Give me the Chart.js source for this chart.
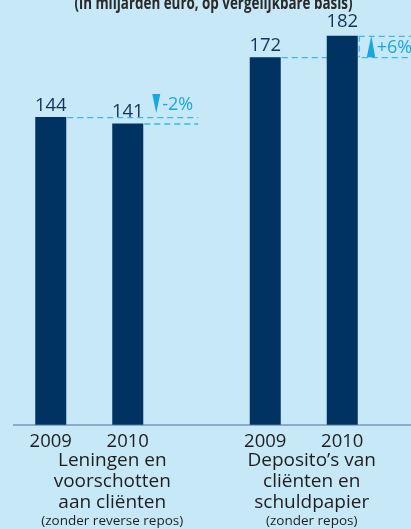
<!DOCTYPE html>
<html lang="nl">
<head>
    <meta charset="UTF-8">
    <script src="https://cdn.jsdelivr.net/npm/chart.js"></script>
    <title>Leningen en deposito's</title>
    <style>
        html, body { margin: 0; padding: 0; width: 411px; height: 529px; overflow: hidden; background: #c6e8f7; }
        #grafiek { position: absolute; left: -18px; top: 0; }
    </style>
</head>
<body>
    <canvas id="grafiek" width="429" height="529"></canvas>

    <script>
        // data
        const jaren = ['2009', '2010'];
        const categorieen = [
            ['Leningen en', 'voorschotten', 'aan cliënten'],
            ['Deposito’s van', 'cliënten en', 'schuldpapier']
        ];
        const voetnoten = ['(zonder reverse repos)', '(zonder repos)'];
        const waarden2009 = [144, 172];
        const waarden2010 = [141, 182];
        const veranderingen = ['-2%', '+6%'];
        const titel = '(in miljarden euro, op vergelijkbare basis)';

        const FONT = '"Open Sans", sans-serif';
        const BLAUW_DONKER = '#003262';
        const CYAAN = '#1aa7e0';

        // alles wat niet uit de schalen komt wordt hier getekend
        const annotaties = {
            id: 'annotaties',
            beforeDatasetsDraw(chart) {
                const ctx = chart.ctx;
                const oud = chart.getDatasetMeta(0).data;
                const nieuw = chart.getDatasetMeta(1).data;
                ctx.save();
                ctx.strokeStyle = '#3db6ec';
                ctx.lineWidth = 1.3;
                ctx.setLineDash([6, 4]);
                oud.forEach((b0, i) => {
                    const b1 = nieuw[i];
                    const rechts = b1.x + b1.width / 2;
                    const eind = rechts + 55;
                    ctx.beginPath();
                    ctx.moveTo(b0.x + b0.width / 2 + 1, b0.y + 0.5);
                    ctx.lineTo(eind, b0.y + 0.5);
                    ctx.moveTo(rechts + 1, b1.y + 0.5);
                    ctx.lineTo(eind, b1.y + 0.5);
                    if (b1.y < b0.y) {
                        ctx.moveTo(rechts + 1.5, b1.y);
                        ctx.lineTo(rechts + 1.5, b0.y);
                    }
                    ctx.stroke();
                });
                ctx.restore();
            },
            afterDatasetsDraw(chart) {
                const ctx = chart.ctx;
                const area = chart.chartArea;
                const xs = chart.scales.x;
                const oud = chart.getDatasetMeta(0).data;
                const nieuw = chart.getDatasetMeta(1).data;
                ctx.save();

                // as
                ctx.strokeStyle = '#4d7396';
                ctx.lineWidth = 1.2;
                ctx.beginPath();
                ctx.moveTo(31, area.bottom);
                ctx.lineTo(area.right, area.bottom);
                ctx.stroke();

                // waarden boven de staven
                ctx.fillStyle = '#14335a';
                ctx.font = '18.5px ' + FONT;
                ctx.textAlign = 'center';
                ctx.textBaseline = 'alphabetic';
                chart.data.datasets.forEach((ds, d) => {
                    chart.getDatasetMeta(d).data.forEach((bar, i) => {
                        const stijgt = d === 1 && ds.data[i] > chart.data.datasets[0].data[i];
                        ctx.fillText(ds.data[i], bar.x, bar.y - (stijgt ? 9 : 6));
                    });
                });

                // pijltjes en procenten
                oud.forEach((b0, i) => {
                    const b1 = nieuw[i];
                    const links = b1.x + b1.width / 2 + 9;
                    const omhoog = b1.y < b0.y;
                    let boven, onder;
                    ctx.fillStyle = CYAAN;
                    ctx.beginPath();
                    if (omhoog) {
                        onder = b0.y;
                        boven = b1.y;
                        ctx.moveTo(links + 4.5, boven);
                        ctx.lineTo(links + 8.5, onder);
                        ctx.lineTo(links, onder);
                    } else {
                        onder = b0.y - 4;
                        boven = onder - 19;
                        ctx.moveTo(links, boven);
                        ctx.lineTo(links + 8, boven);
                        ctx.lineTo(links + 4, onder);
                    }
                    ctx.closePath();
                    ctx.fill();
                    ctx.font = '18px ' + FONT;
                    ctx.textAlign = 'left';
                    ctx.textBaseline = 'middle';
                    ctx.fillText(veranderingen[i], links + 10, (boven + onder) / 2 + 1);
                });

                // jaartallen onder de staven
                ctx.fillStyle = '#1e1e1e';
                ctx.font = '18.5px ' + FONT;
                ctx.textAlign = 'center';
                ctx.textBaseline = 'alphabetic';
                [oud, nieuw].forEach((staven, d) => {
                    staven.forEach(bar => ctx.fillText(jaren[d], bar.x, area.bottom + 22));
                });

                // categorieën
                const verschuiving = chart.options.plugins.annotaties.labelVerschuiving;
                categorieen.forEach((regels, i) => {
                    const x = xs.getPixelForValue(i) + verschuiving[i];
                    ctx.font = '19px ' + FONT;
                    regels.forEach((r, j) => ctx.fillText(r, x, area.bottom + 41 + j * 21));
                    ctx.font = '13.5px ' + FONT;
                    ctx.fillText(voetnoten[i], x, area.bottom + 100);
                });

                // titel, bovenkant valt buiten beeld (smalle letter)
                ctx.fillStyle = '#2a2a2a';
                ctx.font = 'bold 17px ' + FONT;
                ctx.fillText(titel, 231.5, 9, 278);

                ctx.restore();
            }
        };

        new Chart(document.getElementById('grafiek'), {
            type: 'bar',
            data: {
                labels: categorieen.map(c => c.join(' ')),
                datasets: [
                    { label: jaren[0], data: waarden2009, backgroundColor: BLAUW_DONKER },
                    { label: jaren[1], data: waarden2010, backgroundColor: BLAUW_DONKER }
                ]
            },
            options: {
                responsive: false,
                animation: false,
                events: [],
                layout: { padding: { top: 8, bottom: 104, left: 0, right: 0 } },
                datasets: {
                    bar: { categoryPercentage: 0.718, barPercentage: 0.4026 }
                },
                scales: {
                    x: { display: false },
                    y: { display: false, min: 0, max: 195 }
                },
                plugins: {
                    legend: { display: false },
                    tooltip: { enabled: false },
                    annotaties: { labelVerschuiving: [23, 8] }
                }
            },
            plugins: [annotaties]
        });
    </script>
</body>
</html>
